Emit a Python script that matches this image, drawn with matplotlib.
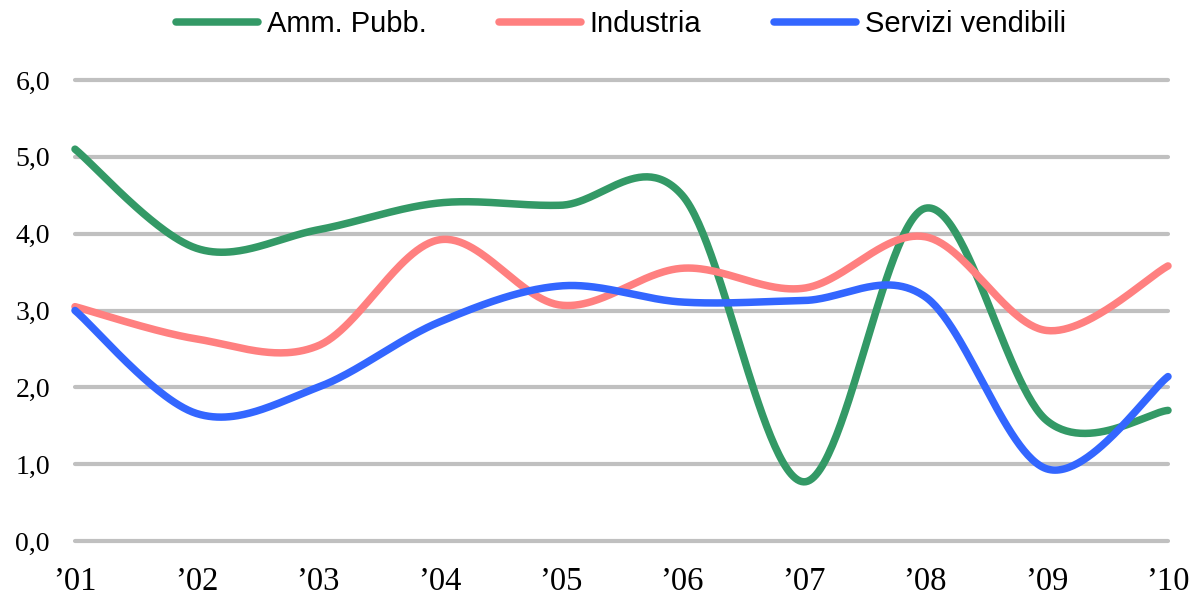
"""
Andamento per settore, 2001-2010: linee lisciate come nel grafico originale
"""

import numpy as np
import matplotlib
matplotlib.use("Agg")
import matplotlib.pyplot as plt

anni = ["\u201901", "\u201902", "\u201903", "\u201904", "\u201905",
        "\u201906", "\u201907", "\u201908", "\u201909", "\u201910"]

amm_pubb = [5.10, 3.81, 4.05, 4.40, 4.37, 4.50, 0.77, 4.33, 1.57, 1.70]
industria = [3.05, 2.63, 2.54, 3.92, 3.07, 3.55, 3.29, 3.96, 2.74, 3.58]
servizi = [3.00, 1.66, 2.00, 2.85, 3.32, 3.11, 3.13, 3.18, 0.94, 2.14]

serie = [
    ("Amm. Pubb.", amm_pubb, "#339966"),
    ("Industria", industria, "#FF8080"),
    ("Servizi vendibili", servizi, "#3366FF"),
]


def smooth(x, y, n=60):
    """
    Description:
        Bezier smoothing similar to the one used by spreadsheet charts

    x:  x values
    y:  y values
    n:  points per segment
    """
    p = np.column_stack([x, y]).astype(float)
    m = len(p)
    out = []
    t = np.linspace(0, 1, n)[:, None]
    for i in range(m - 1):
        p0 = p[i]
        p3 = p[i + 1]
        prev = p[i - 1] if i > 0 else p[i]
        nxt = p[i + 2] if i + 2 < m else p[i + 1]
        c1 = p0 + (p3 - prev) / 6.0
        c2 = p3 - (nxt - p0) / 6.0
        seg = ((1 - t) ** 3) * p0 + 3 * ((1 - t) ** 2) * t * c1 \
            + 3 * (1 - t) * t ** 2 * c2 + t ** 3 * p3
        out.append(seg if i == 0 else seg[1:])
    out = np.vstack(out)
    return out[:, 0], out[:, 1]


fig = plt.figure(figsize=(11.94, 5.97), dpi=100)
ax = fig.add_axes([75 / 1194, 1 - 541 / 597, (1168 - 75) / 1194, (541 - 80) / 597])

xs = np.arange(len(anni))
for nome, valori, colore in serie:
    sx, sy = smooth(xs, valori)
    ax.plot(sx, sy, color=colore, linewidth=5.4, label=nome,
            solid_capstyle="round", clip_on=False, zorder=3)

ax.set_xlim(0, len(anni) - 1)
ax.set_ylim(0, 6)
ax.set_yticks(np.arange(0, 7, 1))
ax.set_yticklabels([f"{v:.1f}".replace(".", ",") for v in range(7)],
                   fontfamily="Liberation Serif", fontsize=20)
ax.set_xticks(xs)
ax.set_xticklabels(anni, fontfamily="Liberation Serif", fontsize=23.5)
ax.tick_params(axis="y", length=0, pad=18)
ax.tick_params(axis="x", length=0, pad=18)

ax.yaxis.grid(True, color="#C0C0C0", linewidth=3.0, solid_capstyle="round")
for gl in ax.get_ygridlines():
    gl.set_clip_on(False)
ax.set_axisbelow(True)
for s in ax.spines.values():
    s.set_visible(False)

fig.legend(loc="center", bbox_to_anchor=(0.52, 0.96), ncol=3, frameon=False,
           prop={"family": "Liberation Sans", "size": 21},
           handlelength=2.8, handletextpad=0.3, columnspacing=2.5)

fig.savefig("out.png", dpi=100)
